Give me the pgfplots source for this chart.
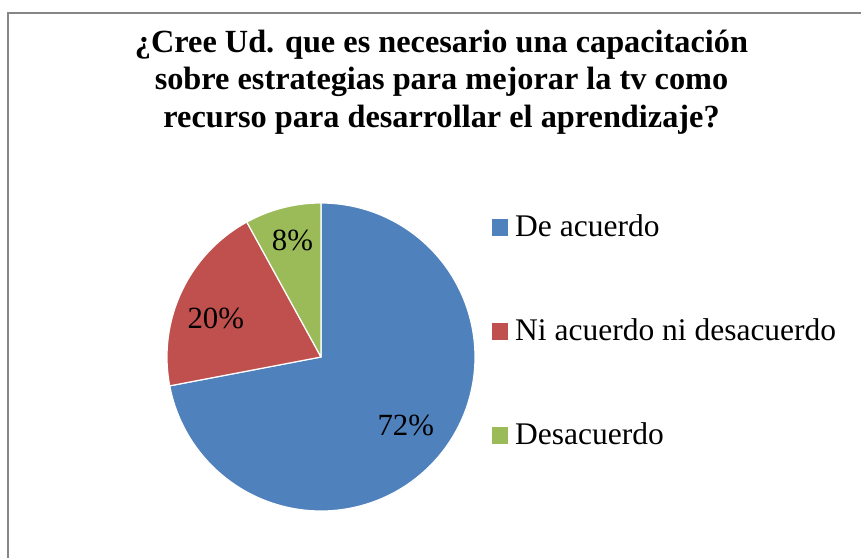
\documentclass[border=0pt]{standalone}
\usepackage{pgfplots}
\pgfplotsset{compat=1.18}
\usepackage{pgfplotstable}
\usepackage{fontspec}
\setmainfont{Liberation Serif}
\definecolor{pieblue}{HTML}{4F81BD}
\definecolor{piered}{HTML}{C0504D}
\definecolor{piegreen}{HTML}{9BBB59}
\definecolor{framegray}{RGB}{134,134,134}
\pgfplotstableread{
value
72
20
8
}\piedata
\pgfplotstablegetelem{0}{value}\of\piedata \let\va\pgfplotsretval
\pgfplotstablegetelem{1}{value}\of\piedata \let\vb\pgfplotsretval
\pgfplotstablegetelem{2}{value}\of\piedata \let\vc\pgfplotsretval
\pgfmathsetmacro\aA{90}
\pgfmathsetmacro\aB{\aA-3.6*\va}
\pgfmathsetmacro\aC{\aB-3.6*\vb}
\pgfmathsetmacro\aD{\aC-3.6*\vc}
\newcommand\bigtxt{\fontsize{31.5bp}{36bp}\selectfont}
\newcommand\lbltxt{\fontsize{30.8bp}{36bp}\selectfont}
\newcommand\ttltxt{\fontsize{32.3bp}{38bp}\selectfont\bfseries}
\begin{document}
\begin{tikzpicture}
\begin{axis}[width=861bp, height=558bp, scale only axis,
  xmin=0, xmax=861, ymin=0, ymax=558, y dir=reverse,
  hide axis, clip=true]
\draw[framegray, line width=1.5pt] (axis cs:8,558) -- (axis cs:8,13) -- (axis cs:861,13);
\addplot[fill=pieblue, draw=white, line width=1.2pt, line join=round, samples=150, domain=\aB:\aA, variable=\t]
  ({321+154*cos(\t)},{357-154*sin(\t)}) -- (axis cs:321,357) -- cycle;
\addplot[fill=piered, draw=white, line width=1.2pt, line join=round, samples=60, domain=\aC:\aB, variable=\t]
  ({321+154*cos(\t)},{357-154*sin(\t)}) -- (axis cs:321,357) -- cycle;
\addplot[fill=piegreen, draw=white, line width=1.2pt, line join=round, samples=30, domain=\aD:\aC, variable=\t]
  ({321+154*cos(\t)},{357-154*sin(\t)}) -- (axis cs:321,357) -- cycle;
\node[anchor=base, font=\lbltxt, inner sep=0] at (axis cs:405.8,435) {72\%};
\node[anchor=base, font=\lbltxt, inner sep=0] at (axis cs:215.8,328) {20\%};
\node[anchor=base, font=\lbltxt, inner sep=0] at (axis cs:292.5,250) {8\%};
\node[anchor=base, font=\ttltxt, inner sep=0] at (axis cs:441.5,53) {¿Cree Ud. que es necesario una capacitación};
\node[anchor=base, font=\ttltxt, inner sep=0] at (axis cs:441.5,90) {sobre estrategias para mejorar la tv como};
\node[anchor=base, font=\ttltxt, inner sep=0] at (axis cs:441.5,127) {recurso para desarrollar el aprendizaje?};
\fill[pieblue] (axis cs:492,219) rectangle (axis cs:508,236);
\fill[piered] (axis cs:492,323) rectangle (axis cs:508,340);
\fill[piegreen] (axis cs:492,427) rectangle (axis cs:508,444);
\node[anchor=base west, font=\bigtxt, inner sep=0] at (axis cs:515,236) {De acuerdo};
\node[anchor=base west, font=\bigtxt, inner sep=0] at (axis cs:515,340) {Ni acuerdo ni desacuerdo};
\node[anchor=base west, font=\bigtxt, inner sep=0] at (axis cs:515,444) {Desacuerdo};
\end{axis}
\pgfresetboundingbox
\useasboundingbox (current axis.south west) rectangle (current axis.north east);
\end{tikzpicture}
\end{document}
